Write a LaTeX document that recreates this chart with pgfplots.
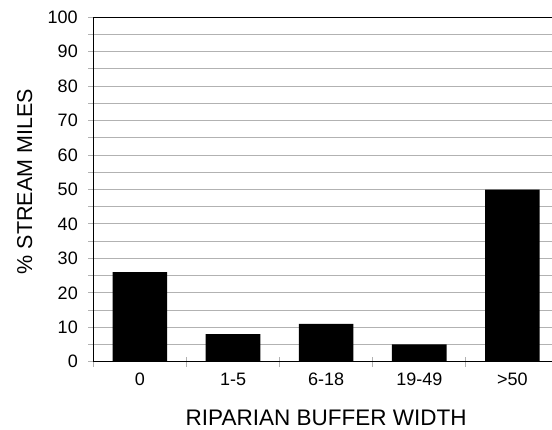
\documentclass[border=0pt]{standalone}
\usepackage{pgfplots}
\pgfplotsset{compat=1.18}
\usepackage{fontspec}
\setmainfont{Liberation Sans}
\definecolor{gridgray}{RGB}{178,178,178}

\begin{document}
\begin{tikzpicture}
  \begin{axis}[
    at={(0,0)}, anchor=south west,
    scale only axis,
    width=465.7pt, height=344.4pt,
    xmin=-0.5, xmax=4.5,
    ymin=0, ymax=100,
    axis line style={black, line width=1pt},
    ytick={0,5,...,100},
    yticklabels={0,,10,,20,,30,,40,,50,,60,,70,,80,,90,,100},
    ymajorgrids,
    grid style={gridgray, line width=1pt},
    xtick={0,1,2,3,4},
    xticklabels={0,1-5,6-18,19-49,>50},
    minor xtick={-0.5,0.5,1.5,2.5,3.5,4.5},
    tick align=outside,
    major tick length=7pt,
    minor tick length=10pt,
    major x tick style={draw=none},
    minor x tick style={draw=gridgray, line width=1pt, yshift=5pt},
    major y tick style={draw=gridgray, line width=1pt, xshift=2pt},
    tickpos=left,
    ticklabel style={font=\fontsize{18}{21}\selectfont},
    yticklabel style={xshift=-5pt},
    xticklabel style={yshift=-1pt},
    xlabel={RIPARIAN BUFFER WIDTH},
    ylabel={\% STREAM MILES},
    xlabel style={font=\fontsize{22.5}{26}\selectfont,
      at={(axis description cs:0.5,-0.1626)}, anchor=center},
    ylabel style={font=\fontsize{21.5}{25}\selectfont,
      at={(axis description cs:-0.1473,0.523)}, anchor=center},
    /pgf/number format/assume math mode=true,
    ybar, bar width=54.6pt,
  ]
    \addplot[fill=black, draw=none] coordinates {
      (0, 26)
      (1, 8)
      (2, 11)
      (3, 5)
      (4, 50)
    };
  \end{axis}
  \pgfresetboundingbox
  \useasboundingbox (-93.3pt,-67.3pt) rectangle (458.7pt,361.7pt);
\end{tikzpicture}
\end{document}
